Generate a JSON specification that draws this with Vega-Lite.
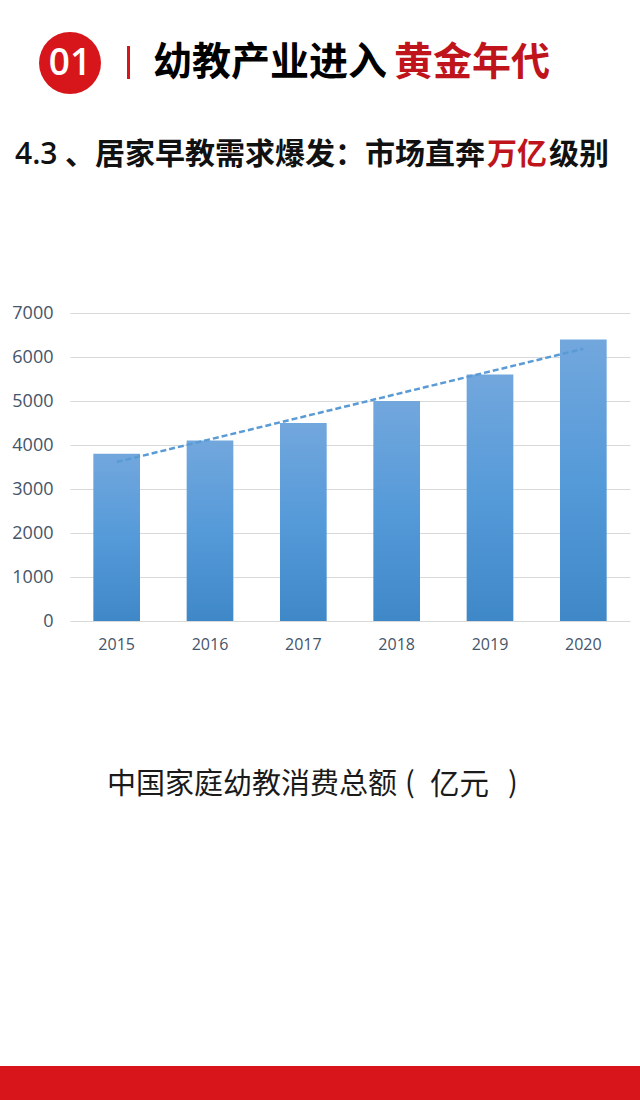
{
  "$schema": "https://vega.github.io/schema/vega-lite/v6.json",
  "padding": 0,
  "background": "white",
  "config": {"view": {"stroke": null}, "font": "Noto Sans CJK SC"},
  "columns": 1,
  "align": "none",
  "spacing": 0,
  "bounds": "full",
  "concat": [
    {
      "width": 640,
      "height": 304,
      "data": {"values": [{}]},
      "layer": [
        {
          "mark": {"type": "point", "shape": "circle", "filled": true, "color": "#d7161c", "opacity": 1, "size": 3844},
          "encoding": {
            "x": {"datum": 70, "type": "quantitative", "scale": {"domain": [0, 640], "nice": false, "zero": false}, "axis": null},
            "y": {"datum": 63, "type": "quantitative", "scale": {"domain": [304, 0], "nice": false, "zero": false}, "axis": null}
          }
        },
        {
          "mark": {"type": "text", "font": "Open Sans", "fontWeight": 600, "fontSize": 37, "color": "white", "align": "center", "baseline": "middle", "dy": 1},
          "encoding": {
            "x": {"datum": 70, "type": "quantitative"},
            "y": {"datum": 63, "type": "quantitative"},
            "text": {"value": "01"}
          }
        },
        {
          "mark": {"type": "rule", "color": "#d7161c", "strokeWidth": 3},
          "encoding": {
            "x": {"datum": 128.5, "type": "quantitative"},
            "y": {"datum": 46, "type": "quantitative"},
            "y2": {"datum": 79}
          }
        },
        {
          "mark": {"type": "text", "fontWeight": "bold", "fontSize": 39, "color": "#000000", "align": "left", "baseline": "middle"},
          "encoding": {
            "x": {"datum": 153, "type": "quantitative"},
            "y": {"datum": 63, "type": "quantitative"},
            "text": {"value": "幼教产业进入"}
          }
        },
        {
          "mark": {"type": "text", "fontWeight": "bold", "fontSize": 39, "color": "#c0141c", "align": "left", "baseline": "middle"},
          "encoding": {
            "x": {"datum": 394, "type": "quantitative"},
            "y": {"datum": 63, "type": "quantitative"},
            "text": {"value": "黄金年代"}
          }
        },
        {
          "mark": {"type": "text", "font": "Open Sans", "fontWeight": 600, "fontSize": 30, "color": "#111111", "align": "left", "baseline": "middle"},
          "encoding": {
            "x": {"datum": 15, "type": "quantitative"},
            "y": {"datum": 155, "type": "quantitative"},
            "text": {"value": "4.3"}
          }
        },
        {
          "mark": {"type": "text", "fontWeight": "bold", "fontSize": 30, "color": "#111111", "align": "left", "baseline": "middle"},
          "encoding": {
            "x": {"datum": 65, "type": "quantitative"},
            "y": {"datum": 155, "type": "quantitative"},
            "text": {"value": "、居家早教需求爆发：市场直奔"}
          }
        },
        {
          "mark": {"type": "text", "fontWeight": "bold", "fontSize": 30, "color": "#c0141c", "align": "left", "baseline": "middle"},
          "encoding": {
            "x": {"datum": 487, "type": "quantitative"},
            "y": {"datum": 155, "type": "quantitative"},
            "text": {"value": "万亿"}
          }
        },
        {
          "mark": {"type": "text", "fontWeight": "bold", "fontSize": 30, "color": "#111111", "align": "left", "baseline": "middle"},
          "encoding": {
            "x": {"datum": 549, "type": "quantitative"},
            "y": {"datum": 155, "type": "quantitative"},
            "text": {"value": "级别"}
          }
        }
      ]
    },
    {
      "spacing": 0,
      "hconcat": [
        {
          "width": 11,
          "height": 10,
          "data": {"values": [{}]},
          "mark": {"type": "text"},
          "encoding": {"text": {"value": ""}}
        },
        {
          "width": 560,
          "height": 308,
          "data": {
            "values": [
              {"year": 2015, "value": 3800},
              {"year": 2016, "value": 4100},
              {"year": 2017, "value": 4500},
              {"year": 2018, "value": 5000},
              {"year": 2019, "value": 5600},
              {"year": 2020, "value": 6400}
            ]
          },
          "encoding": {
            "x": {
              "field": "year",
              "type": "ordinal",
              "title": null,
              "scale": {"paddingInner": 0.5, "paddingOuter": 0.25},
              "axis": {"labelAngle": 0, "ticks": false, "domain": false, "labelPadding": 15, "labelFont": "Open Sans", "labelFontSize": 16, "labelColor": "#44546a"}
            }
          },
          "layer": [
            {
              "mark": {
                "type": "bar",
                "fill": {
                  "gradient": "linear",
                  "x1": 0, "y1": 0, "x2": 0, "y2": 1,
                  "stops": [
                    {"offset": 0, "color": "#72a7dd"},
                    {"offset": 0.5, "color": "#559ad9"},
                    {"offset": 1, "color": "#3f88c8"}
                  ]
                }
              },
              "encoding": {
                "y": {
                  "field": "value",
                  "type": "quantitative",
                  "title": null,
                  "scale": {"domain": [0, 7000], "nice": false},
                  "axis": {
                    "values": [0, 1000, 2000, 3000, 4000, 5000, 6000, 7000],
                    "format": "d",
                    "ticks": false,
                    "domain": false,
                    "labelPadding": 17,
                    "labelFont": "Open Sans",
                    "labelFontSize": 18,
                    "labelColor": "#44546a",
                    "gridColor": "#d9d9d9",
                    "gridWidth": 1
                  }
                }
              }
            },
            {
              "transform": [{"regression": "value", "on": "year"}],
              "mark": {"type": "line", "color": "#5b9bd5", "strokeWidth": 2.5, "strokeDash": [6, 3]},
              "encoding": {
                "y": {"field": "value", "type": "quantitative"}
              }
            }
          ]
        }
      ]
    },
    {
      "width": 640,
      "height": 448,
      "data": {"values": [{}]},
      "layer": [
        {
          "mark": {"type": "text", "fontSize": 29, "fontWeight": "normal", "color": "#1a1a1a", "align": "left", "baseline": "middle"},
          "encoding": {
            "x": {"datum": 107, "type": "quantitative", "scale": {"domain": [0, 640], "nice": false, "zero": false}, "axis": null},
            "y": {"datum": 133, "type": "quantitative", "scale": {"domain": [448, 0], "nice": false, "zero": false}, "axis": null},
            "text": {"value": "中国家庭幼教消费总额"}
          }
        },
        {
          "mark": {"type": "text", "fontSize": 29, "fontWeight": "normal", "color": "#1a1a1a", "align": "left", "baseline": "middle"},
          "encoding": {
            "x": {"datum": 405, "type": "quantitative"},
            "y": {"datum": 132, "type": "quantitative"},
            "text": {"value": "("}
          }
        },
        {
          "mark": {"type": "text", "fontSize": 29.5, "fontWeight": "normal", "color": "#1a1a1a", "align": "left", "baseline": "middle"},
          "encoding": {
            "x": {"datum": 430, "type": "quantitative"},
            "y": {"datum": 133, "type": "quantitative"},
            "text": {"value": "亿元"}
          }
        },
        {
          "mark": {"type": "text", "fontSize": 29, "fontWeight": "normal", "color": "#1a1a1a", "align": "left", "baseline": "middle"},
          "encoding": {
            "x": {"datum": 508, "type": "quantitative"},
            "y": {"datum": 132, "type": "quantitative"},
            "text": {"value": ")"}
          }
        },
        {
          "mark": {"type": "rect", "color": "#d7151a"},
          "encoding": {
            "x": {"datum": 0, "type": "quantitative"},
            "x2": {"datum": 640},
            "y": {"datum": 414, "type": "quantitative"},
            "y2": {"datum": 448}
          }
        }
      ]
    }
  ]
}
